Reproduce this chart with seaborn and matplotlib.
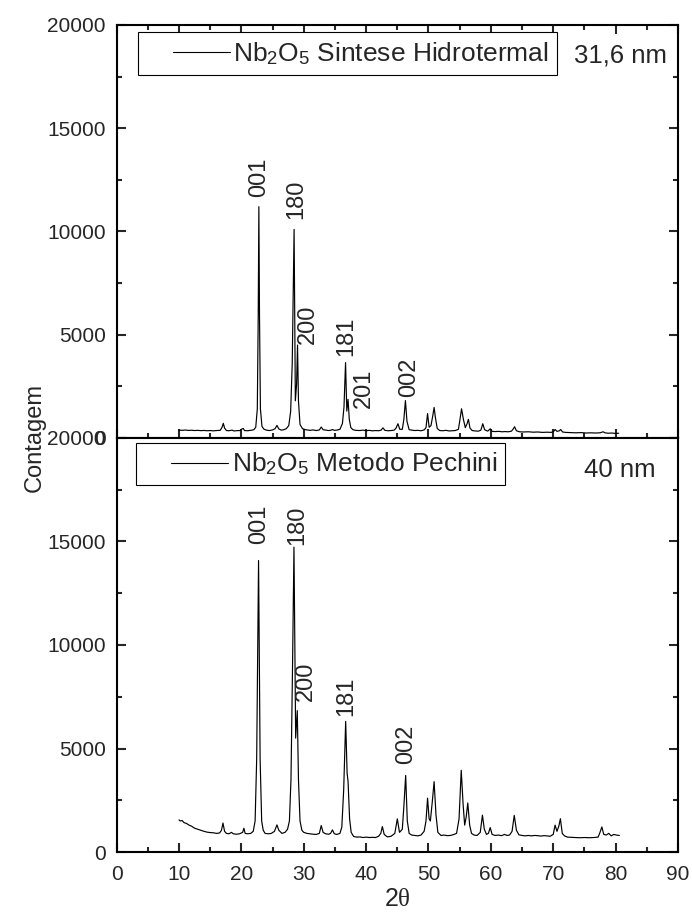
import numpy as np
import pandas as pd
import matplotlib
matplotlib.use("Agg")
import matplotlib.pyplot as plt
from matplotlib.lines import Line2D
from matplotlib.legend_handler import HandlerBase
from matplotlib.ticker import MultipleLocator
import seaborn as sns

# ---- XRD pattern: Nb2O5, hydrothermal synthesis (2theta, counts) ----
hydro_2theta = [
    10.0, 10.5, 11.0, 11.5, 12.0, 12.5, 13.0, 13.5, 14.0, 14.5, 15.0, 15.5, 16.0, 16.6,
    16.9, 17.1, 17.3, 17.6, 18.0, 18.5, 18.8, 19.3, 19.8, 20.1, 20.3, 20.5, 21.0, 21.5,
    22.0, 22.3, 22.55, 22.7, 22.8, 22.9, 23.05, 23.3, 23.6, 24.0, 24.5, 25.0, 25.4, 25.7,
    26.0, 26.4, 26.8, 27.2, 27.6, 27.9, 28.15, 28.3, 28.45, 28.65, 28.85, 29.0, 29.15,
    29.4, 29.8, 30.3, 31.0, 31.5, 32.0, 32.5, 32.8, 33.1, 33.5, 34.0, 34.4, 34.6, 34.9,
    35.3, 35.8, 36.2, 36.45, 36.7, 36.9, 37.1, 37.3, 37.55, 37.9, 38.3, 39.0, 39.5, 40.0,
    40.5, 41.0, 41.5, 42.0, 42.4, 42.7, 43.0, 43.5, 44.0, 44.5, 44.8, 45.1, 45.4, 45.8,
    46.05, 46.3, 46.55, 46.9, 47.3, 47.8, 48.3, 48.8, 49.3, 49.6, 49.85, 50.1, 50.4, 50.7,
    50.9, 51.1, 51.4, 51.8, 52.3, 52.8, 53.3, 53.8, 54.3, 54.8, 55.05, 55.3, 55.6, 55.9,
    56.2, 56.4, 56.65, 57.0, 57.5, 58.0, 58.4, 58.7, 59.0, 59.5, 59.9, 60.2, 60.7, 61.3,
    61.8, 62.3, 62.8, 63.3, 63.6, 63.8, 64.1, 64.6, 65.2, 66.0, 66.8, 67.5, 68.3, 69.0,
    69.7, 70.1, 70.3, 70.6, 71.0, 71.2, 71.5, 72.0, 72.8, 73.6, 74.5, 75.3, 76.0, 76.8,
    77.5, 77.8, 78.0, 78.3, 78.8, 79.4, 80.0, 80.5,
]
hydro_counts = [
    380, 370, 385, 365, 375, 360, 370, 355, 365, 350, 360, 345, 360, 370,
    520, 710, 480, 360, 350, 380, 340, 355, 360, 440, 460, 360, 350, 370,
    400, 520, 1400, 6000, 11200, 6000, 1400, 560, 430, 380, 360, 390, 450, 610,
    440, 380, 400, 450, 600, 1300, 3600, 7000, 10100, 1800, 2600, 4500, 1800,
    650, 450, 400, 370, 390, 360, 390, 530, 400, 380, 360, 380, 410, 370,
    380, 420, 700, 1500, 3650, 1300, 1870, 900, 500, 400, 370, 360, 380, 350,
    370, 345, 360, 350, 380, 490, 370, 350, 360, 380, 480, 690, 420, 420,
    900, 1810, 800, 400, 380, 360, 370, 350, 390, 500, 1180, 520, 600, 1100,
    1480, 1000, 460, 360, 350, 370, 340, 350, 360, 420, 900, 1415, 900, 500,
    700, 905, 480, 360, 340, 330, 380, 690, 400, 330, 445, 320, 310, 320,
    300, 310, 300, 330, 440, 545, 350, 300, 290, 300, 280, 290, 270, 280,
    270, 330, 410, 320, 350, 410, 290, 270, 260, 250, 260, 240, 250, 240,
    250, 280, 300, 250, 230, 240, 220, 230,
]

# ---- XRD pattern: Nb2O5, Pechini method (2theta, counts) ----
pech_2theta = [
    10.0, 10.2, 10.5, 10.8, 11.2, 11.6, 12.0, 12.5, 13.0, 13.5, 14.0, 14.5, 15.0, 15.5,
    16.0, 16.5, 16.8, 17.05, 17.3, 17.6, 18.0, 18.4, 18.7, 19.2, 19.7, 20.2, 20.4, 20.6,
    21.0, 21.5, 21.9, 22.2, 22.45, 22.75, 23.0, 23.25, 23.5, 23.8, 24.3, 24.8, 25.3, 25.7,
    26.0, 26.5, 27.0, 27.4, 27.7, 27.95, 28.2, 28.43, 28.7, 28.96, 29.15, 29.4, 29.7,
    30.0, 30.5, 31.0, 31.5, 32.0, 32.5, 32.8, 33.1, 33.5, 34.0, 34.3, 34.6, 34.9, 35.3,
    35.8, 36.1, 36.4, 36.72, 36.95, 37.1, 37.35, 37.6, 38.0, 38.5, 39.0, 39.5, 40.0,
    40.5, 41.0, 41.5, 42.0, 42.35, 42.6, 42.9, 43.4, 44.0, 44.6, 45.0, 45.35, 45.8,
    46.05, 46.34, 46.6, 46.9, 47.3, 47.8, 48.3, 48.8, 49.3, 49.6, 49.85, 50.1, 50.3,
    50.6, 50.9, 51.2, 51.5, 52.0, 52.5, 53.0, 53.5, 54.0, 54.5, 54.9, 55.25, 55.55,
    55.8, 56.05, 56.3, 56.6, 56.9, 57.3, 57.8, 58.3, 58.65, 58.95, 59.3, 59.6, 59.9,
    60.2, 60.7, 61.2, 61.7, 62.2, 62.6, 63.0, 63.4, 63.75, 64.1, 64.5, 65.0, 65.5,
    66.0, 66.5, 67.0, 67.5, 68.0, 68.5, 69.0, 69.5, 70.0, 70.3, 70.6, 70.9, 71.15,
    71.45, 71.8, 72.3, 72.8, 73.5, 74.2, 75.0, 75.8, 76.5, 77.2, 77.5, 77.8, 78.1,
    78.5, 78.9, 79.3, 79.7, 80.1, 80.6,
]
pech_counts = [
    1550, 1500, 1520, 1420, 1380, 1300, 1250, 1150, 1100, 1050, 1000, 960, 940, 930,
    900, 920, 1050, 1400, 1000, 900, 880, 950, 880, 860, 880, 950, 1150, 900,
    880, 900, 1000, 1500, 4500, 14080, 4500, 1500, 1050, 900, 880, 900, 1000, 1310,
    1050, 900, 950, 1100, 1500, 3500, 9000, 14730, 5500, 6830, 3500, 1500, 1050,
    950, 900, 880, 860, 850, 900, 1280, 950, 880, 860, 900, 1070, 880, 850,
    900, 1200, 3000, 6310, 3800, 3420, 1600, 950, 750, 720, 730, 700, 720,
    700, 710, 700, 760, 900, 1230, 850, 730, 760, 900, 1600, 950, 1100,
    2200, 3700, 1500, 900, 820, 800, 780, 820, 1000, 1500, 2600, 1600, 1500,
    2400, 3400, 1800, 950, 800, 820, 790, 800, 840, 900, 1600, 3950, 2300,
    1300, 1700, 2370, 1300, 900, 820, 800, 950, 1780, 1100, 850, 900, 1180,
    850, 800, 820, 790, 850, 800, 820, 1000, 1770, 1050, 830, 800, 780,
    800, 780, 800, 790, 770, 790, 780, 760, 850, 1300, 1000, 1250, 1610,
    900, 780, 720, 710, 700, 690, 700, 690, 700, 720, 950, 1210, 850,
    820, 900, 780, 850, 820, 800,
]

# ---- Miller index annotations ----
hydro_hkl = ["001", "180", "200", "181", "201", "002"]
hydro_hkl_x = [22.8, 28.8, 30.7, 36.8, 39.7, 46.9]
hydro_hkl_y = [11670, 10600, 4550, 3970, 1450, 1990]

pech_hkl = ["001", "180", "200", "181", "002"]
pech_hkl_x = [22.85, 29.0, 30.4, 36.8, 46.4]
pech_hkl_y = [14860, 14830, 7310, 6550, 4230]

hydro_label = r"Nb$_2$O$_5$ Sintese Hidrotermal"
pech_label = r"Nb$_2$O$_5$ Metodo Pechini"
hydro_size = "31,6 nm"
pech_size = "40 nm"

x_ticks = [0, 10, 20, 30, 40, 50, 60, 70, 80, 90]
y_ticks = [0, 5000, 10000, 15000, 20000]

hydro_df = pd.DataFrame({"2theta": hydro_2theta, "Contagem": hydro_counts})
pech_df = pd.DataFrame({"2theta": pech_2theta, "Contagem": pech_counts})

sns.set_style("ticks")
plt.rcParams["font.family"] = ["Liberation Sans", "DejaVu Sans"]
plt.rcParams["mathtext.fontset"] = "custom"
plt.rcParams["mathtext.rm"] = "Liberation Sans"
plt.rcParams["mathtext.it"] = "Liberation Serif"
plt.rcParams["axes.linewidth"] = 1.5


class LeadLineHandler(HandlerBase):
    """Legend handle whose line occupies only the right part of the handle box."""

    def __init__(self, lead_frac, **kw):
        super().__init__(**kw)
        self.lead_frac = lead_frac

    def create_artists(self, legend, orig_handle, xdescent, ydescent, width,
                       height, fontsize, trans):
        y = height / 2 - ydescent
        x0 = -xdescent + self.lead_frac * width
        x1 = -xdescent + width
        line = Line2D([x0, x1], [y, y], color="black", linewidth=0.8)
        line.set_transform(trans)
        return [line]


fig = plt.figure(figsize=(6.92, 9.24), dpi=100)
ax_top = fig.add_axes([0.1686, 0.5260, 0.8111, 0.4470])
ax_bot = fig.add_axes([0.1686, 0.0779, 0.8111, 0.4481])

panels = [
    (ax_top, hydro_df, hydro_label, hydro_size, hydro_hkl, hydro_hkl_x, hydro_hkl_y,
     0.0374, 0.982, 0.926),
    (ax_bot, pech_df, pech_label, pech_size, pech_hkl, pech_hkl_x, pech_hkl_y,
     0.0344, 0.988, 0.9227),
]

for ax, df, label, size_txt, hkl, hx, hy, lx, ly, sy in panels:
    sns.lineplot(data=df, x="2theta", y="Contagem", ax=ax, color="black",
                 linewidth=0.85, label=label, sort=False, estimator=None)
    ax.set_xlim(0, 90)
    ax.set_ylim(0, 20000)
    ax.set_xticks(x_ticks)
    ax.set_yticks(y_ticks)
    ax.xaxis.set_minor_locator(MultipleLocator(5))
    ax.yaxis.set_minor_locator(MultipleLocator(2500))
    ax.tick_params(which="both", direction="in", width=1.5, labelsize=15)
    ax.tick_params(which="major", length=6.5)
    ax.tick_params(which="minor", length=3.5)
    ax.tick_params(axis="y", which="both", left=True, right=True, pad=8)
    ax.tick_params(axis="x", pad=9)
    ax.set_xlabel("")
    ax.set_ylabel("")
    for sp in ax.spines.values():
        sp.set_visible(True)
        sp.set_linewidth(1.5)
        sp.set_color("black")

    for t, x, y in zip(hkl, hx, hy):
        ax.text(x, y, t, rotation=90, ha="center", va="bottom", fontsize=17)

    ax.text(0.897, sy, size_txt, transform=ax.transAxes,
            ha="center", va="center", fontsize=18.5)

    handle = ax.lines[0]
    leg = ax.legend(handles=[handle], labels=[label], loc="upper left",
                    bbox_to_anchor=(lx, ly), borderaxespad=0, fontsize=19,
                    frameon=True, fancybox=False, framealpha=1, borderpad=0.3,
                    handlelength=3.2, handletextpad=0.12,
                    handler_map={handle: LeadLineHandler(0.32)})
    leg.get_frame().set_edgecolor("black")
    leg.get_frame().set_linewidth(0.8)

ax_top.tick_params(axis="x", which="both", top=True, bottom=True, labelbottom=False)
ax_bot.tick_params(axis="x", which="both", top=False, bottom=True)

fig.text(35 / 692, 1 - 437 / 924, "Contagem", rotation=90, ha="center", va="center",
         fontsize=17, family=["Liberation Sans Narrow", "Liberation Sans"])
fig.text(397 / 692, 1 - 899 / 924, r"2$\theta$", ha="center", va="center", fontsize=18)

fig.savefig("out.png", dpi=100)
